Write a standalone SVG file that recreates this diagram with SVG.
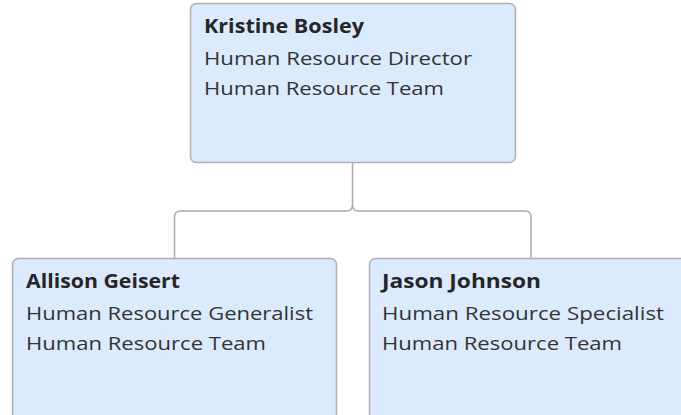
<svg xmlns="http://www.w3.org/2000/svg" width="681" height="415" viewBox="0 0 681 415">
<style>
.box{fill:#dbebfd;stroke:#b0b0b0;stroke-width:1.5}
.name{font-family:"Open Sans","DejaVu Sans",sans-serif;font-weight:700;font-size:19px;fill:#262626}
.line{font-family:"Open Sans","DejaVu Sans",sans-serif;font-size:19px;fill:#333333}
.conn{fill:none;stroke:#ababab;stroke-width:1.5}
</style>
<rect width="681" height="415" fill="#ffffff"/>
<g id="connectors">
<path class="conn" d="M352.5 162 V205 Q352.5 211 346.5 211 H180.5 Q174.5 211 174.5 217 V258"/>
<path class="conn" d="M352.5 205 Q352.5 211 358.5 211 H525 Q531 211 531 217 V258"/>
</g>
<g id="node-kristine">
<rect class="box" x="190.5" y="3.5" width="325" height="159" rx="6"/>
<text class="name" x="204" y="33" textLength="160" lengthAdjust="spacingAndGlyphs">Kristine Bosley</text>
<text class="line" x="204" y="65" textLength="268" lengthAdjust="spacingAndGlyphs">Human Resource Director</text>
<text class="line" x="204" y="95" textLength="240" lengthAdjust="spacingAndGlyphs">Human Resource Team</text>
</g>
<g id="node-allison">
<rect class="box" x="12.5" y="258.5" width="324" height="170" rx="6"/>
<text class="name" x="26" y="288" textLength="154" lengthAdjust="spacingAndGlyphs">Allison Geisert</text>
<text class="line" x="26" y="320" textLength="287" lengthAdjust="spacingAndGlyphs">Human Resource Generalist</text>
<text class="line" x="26" y="350" textLength="240" lengthAdjust="spacingAndGlyphs">Human Resource Team</text>
</g>
<g id="node-jason">
<rect class="box" x="369.5" y="258.5" width="324" height="170" rx="6"/>
<text class="name" x="382" y="288" textLength="159" lengthAdjust="spacingAndGlyphs">Jason Johnson</text>
<text class="line" x="382" y="320" textLength="282" lengthAdjust="spacingAndGlyphs">Human Resource Specialist</text>
<text class="line" x="382" y="350" textLength="240" lengthAdjust="spacingAndGlyphs">Human Resource Team</text>
</g>
</svg>
